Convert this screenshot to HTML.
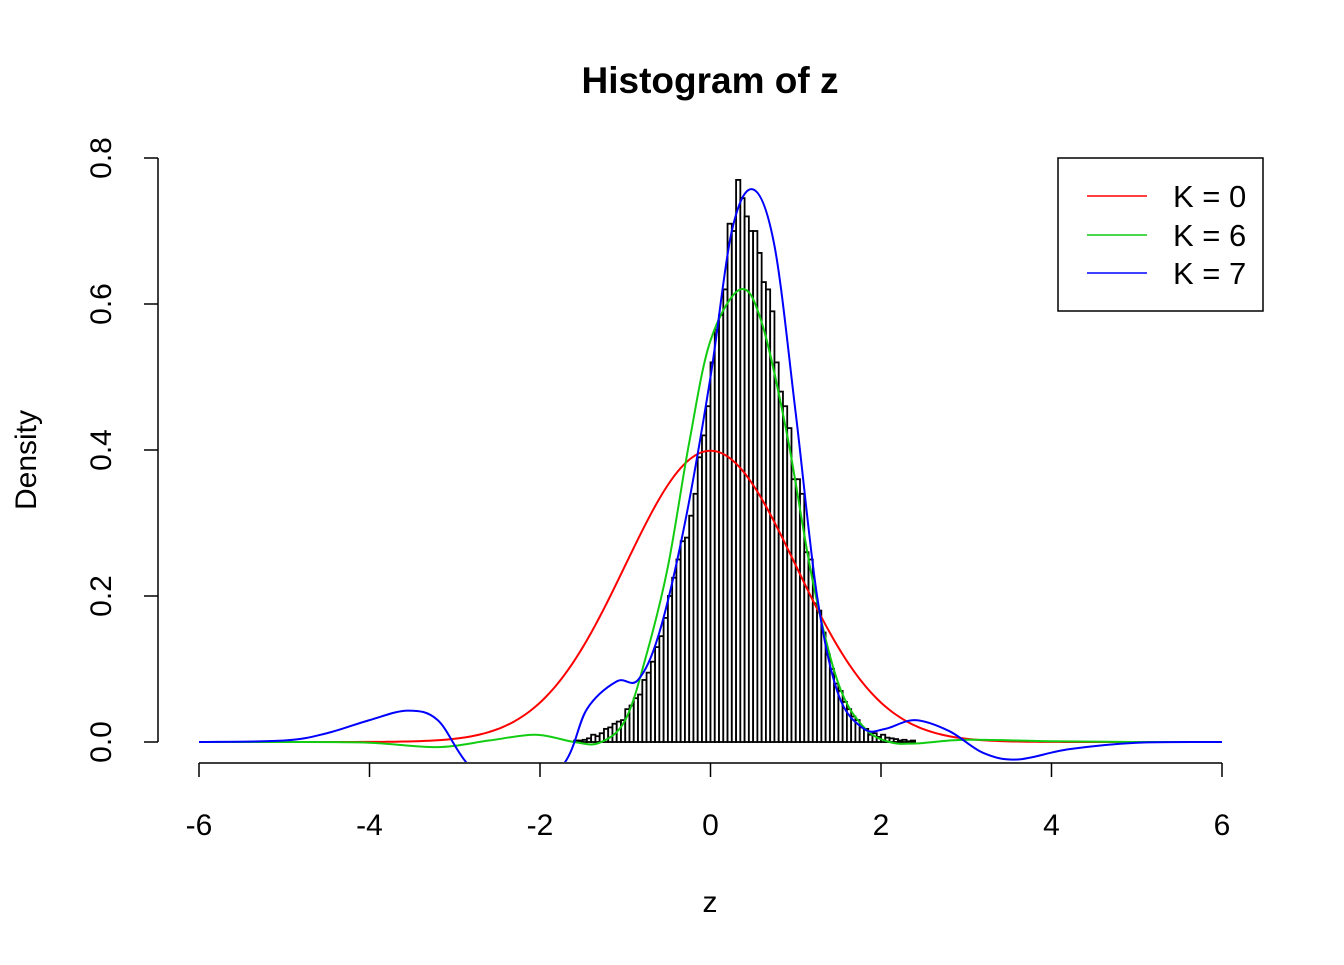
<!DOCTYPE html>
<html><head><meta charset="utf-8"><style>
html,body{margin:0;padding:0;background:#fff}
svg text{font-family:"Liberation Sans",Arial,sans-serif;fill:#000}
</style></head><body>
<svg id="s" width="1344" height="960" viewBox="0 0 1344 960" xmlns="http://www.w3.org/2000/svg">
<defs><clipPath id="c"><rect x="158" y="120" width="1105" height="642"/></clipPath></defs>
<text x="710" y="93" font-size="37" font-weight="bold" text-anchor="middle">Histogram of z</text>
<text x="710" y="912" font-size="30" text-anchor="middle">z</text>
<text transform="translate(36,460) rotate(-90)" font-size="30" text-anchor="middle">Density</text>
<g stroke="#000" stroke-width="1.5" fill="none">
<line x1="199" y1="763" x2="1222" y2="763"/>
<line x1="199" y1="763" x2="199" y2="777"/><line x1="369.5" y1="763" x2="369.5" y2="777"/><line x1="540" y1="763" x2="540" y2="777"/><line x1="710.5" y1="763" x2="710.5" y2="777"/><line x1="881" y1="763" x2="881" y2="777"/><line x1="1051.5" y1="763" x2="1051.5" y2="777"/><line x1="1222" y1="763" x2="1222" y2="777"/>
<line x1="158" y1="742" x2="158" y2="158"/>
<line x1="158" y1="742" x2="144" y2="742"/><line x1="158" y1="596" x2="144" y2="596"/><line x1="158" y1="450" x2="144" y2="450"/><line x1="158" y1="304" x2="144" y2="304"/><line x1="158" y1="158" x2="144" y2="158"/>
<rect x="1058" y="158" width="205" height="153"/>
</g>
<g font-size="30" text-anchor="middle">
<text x="199" y="835">-6</text><text x="369.5" y="835">-4</text><text x="540" y="835">-2</text><text x="710.5" y="835">0</text><text x="881" y="835">2</text><text x="1051.5" y="835">4</text><text x="1222" y="835">6</text>
<text transform="translate(111,742) rotate(-90)">0.0</text>
<text transform="translate(111,596) rotate(-90)">0.2</text>
<text transform="translate(111,450) rotate(-90)">0.4</text>
<text transform="translate(111,304) rotate(-90)">0.6</text>
<text transform="translate(111,158) rotate(-90)">0.8</text>
</g>
<g id="bars" stroke="#000" stroke-width="1.8" fill="#fff"></g>
<g id="curves" fill="none" stroke-width="2" clip-path="url(#c)"></g>
<g stroke-width="1.5"><line x1="1087" y1="196" x2="1147" y2="196" stroke="#f00"/><line x1="1087" y1="235" x2="1147" y2="235" stroke="#1c1"/><line x1="1087" y1="273" x2="1147" y2="273" stroke="#00f"/></g>
<g font-size="31"><text x="1173" y="207">K = 0</text><text x="1173" y="246">K = 6</text><text x="1173" y="284">K = 7</text></g>
</svg>
<script>
var X=function(v){return 710.5+v*85.25},Y=function(v){return 742-v*730};
var h=[0.002,0.002,0.003,0.005,0.01,0.008,0.012,0.018,0.02,0.025,0.028,0.03,0.045,0.05,0.06,0.065,0.085,0.095,0.11,0.13,0.145,0.17,0.2,0.225,0.25,0.275,0.28,0.31,0.34,0.39,0.42,0.46,0.52,0.565,0.585,0.62,0.71,0.70,0.77,0.745,0.72,0.70,0.70,0.67,0.63,0.62,0.59,0.52,0.48,0.46,0.43,0.36,0.36,0.34,0.26,0.25,0.19,0.18,0.15,0.12,0.1,0.08,0.07,0.055,0.045,0.035,0.03,0.02,0.018,0.01,0.012,0.007,0.01,0.006,0.005,0.004,0.002,0.003,0.001,0.002];
var b=document.getElementById("bars"),s="";
for(var i=0;i<h.length;i++){var x0=X(-1.6+i*0.05),x1=X(-1.55+i*0.05);s+='<rect x="'+x0.toFixed(2)+'" y="'+Y(h[i]).toFixed(2)+'" width="'+(x1-x0).toFixed(2)+'" height="'+(742-Y(h[i])).toFixed(2)+'"/>';}
b.innerHTML=s;
function cr(p){var d="M"+X(p[0][0])+","+Y(p[0][1]);for(var i=0;i<p.length-1;i++){var a=p[Math.max(0,i-1)],q=p[i],r=p[i+1],t=p[Math.min(p.length-1,i+2)];
var P=[X(q[0]),Y(q[1])],R=[X(r[0]),Y(r[1])],A=[X(a[0]),Y(a[1])],T=[X(t[0]),Y(t[1])];
d+=" C"+(P[0]+(R[0]-A[0])/6)+","+(P[1]+(R[1]-A[1])/6)+" "+(R[0]-(T[0]-P[0])/6)+","+(R[1]-(T[1]-P[1])/6)+" "+R[0]+","+R[1];}return d;}
var red=[];for(var v=-6;v<=6.001;v+=0.05)red.push([v,Math.exp(-v*v/2)/Math.sqrt(2*Math.PI)]);
var green=[[-6,0],[-5,0],[-4,-0.001],[-3.2,-0.007],[-2.6,0.002],[-2.05,0.01],[-1.6,0.0],[-1.3,-0.001],[-1.0,0.03],[-0.75,0.12],[-0.5,0.24],[-0.25,0.41],[0,0.55],[0.35,0.62],[0.6,0.575],[0.9,0.42],[1.2,0.22],[1.5,0.08],[1.8,0.02],[2.1,0.0],[2.4,-0.002],[3,0.003],[4,0.001],[5,0],[6,0]];
var blue=[[-6,0],[-5,0.002],[-4.5,0.012],[-4,0.03],[-3.55,0.043],[-3.2,0.03],[-2.85,-0.03],[-2.3,-0.09],[-1.72,-0.03],[-1.45,0.045],[-1.1,0.083],[-0.85,0.085],[-0.6,0.15],[-0.3,0.3],[0,0.5],[0.25,0.7],[0.5,0.757],[0.75,0.68],[1,0.45],[1.25,0.2],[1.5,0.065],[1.8,0.018],[2.05,0.018],[2.4,0.03],[2.8,0.015],[3.2,-0.015],[3.6,-0.024],[4.2,-0.01],[5,-0.001],[6,0]];
document.getElementById("curves").innerHTML='<path stroke="#f00" d="'+cr(red)+'"/><path stroke="#1c1" d="'+cr(green)+'"/><path stroke="#00f" d="'+cr(blue)+'"/>';
</script>
</body></html>
